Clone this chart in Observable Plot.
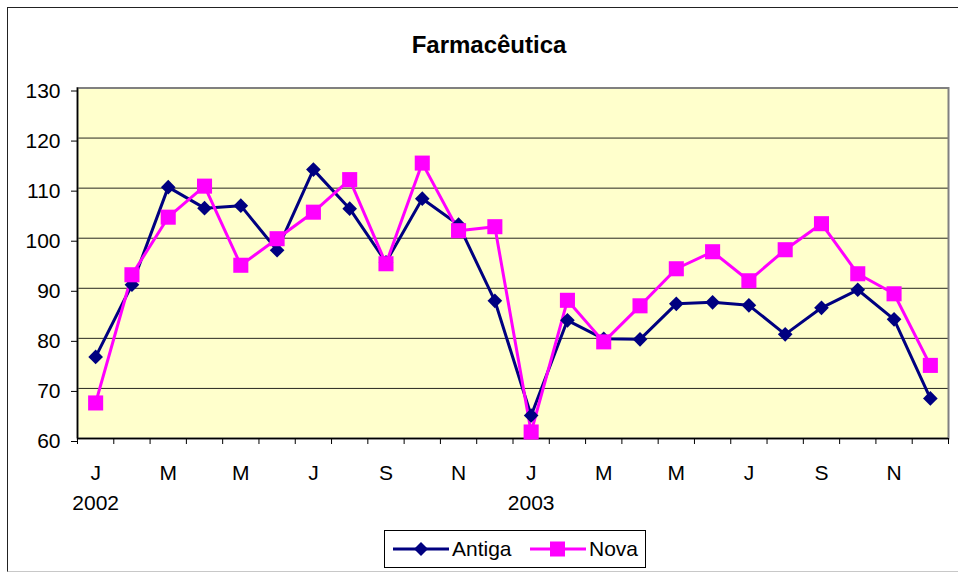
<!DOCTYPE html>
<html><head><meta charset="utf-8">
<script src="https://cdn.jsdelivr.net/npm/d3@7"></script>
<script src="https://cdn.jsdelivr.net/npm/@observablehq/plot@0.6"></script>
<style>
body{margin:0;background:#fff;font-family:Arial,"Liberation Sans",sans-serif;}
#wrap{position:relative;width:958px;height:576px;overflow:hidden;}
#wrap svg.plot{position:absolute;left:0;top:0;}
#border{position:absolute;left:7px;top:7px;width:980px;height:565px;border:1px solid #222;border-bottom-color:#c8c8c8;box-sizing:border-box;}
#title{position:absolute;left:10px;width:958px;top:31px;text-align:center;font-weight:bold;font-size:24px;color:#000;}
#legend{position:absolute;left:384px;top:530px;width:262px;height:38px;border:1px solid #000;box-sizing:border-box;background:#fff;}
#legend .item{position:absolute;top:0;height:36px;display:flex;align-items:center;font-size:21px;color:#000;}
#legend svg{display:block;margin-right:3px;}
</style></head><body>
<div id="wrap"><div id="border"></div><div id="title">Farmacêutica</div>
<div id="legend">
<div class="item" style="left:8px"><svg width="56" height="20"><line x1="0" y1="10" x2="56" y2="10" stroke="#000080" stroke-width="3"/><path d="M28 3L35 10L28 17L21 10Z" fill="#000080"/></svg>Antiga</div>
<div class="item" style="left:145px"><svg width="56" height="20"><line x1="0" y1="10" x2="56" y2="10" stroke="#FF00FF" stroke-width="3"/><rect x="20" y="2.5" width="15" height="15" fill="#FF00FF"/></svg>Nova</div>
</div>
</div>
<script>
const months = ["J","F","M","A","M","J","J","A","S","O","N","D","J","F","M","A","M","J","J","A","S","O","N","D"];
const antiga = [76.3,90.7,110.2,106.0,106.5,97.6,113.7,105.9,95.2,107.9,102.7,87.5,64.6,83.6,79.9,79.8,86.9,87.2,86.6,80.8,86.1,89.7,83.8,68.0];
const nova = [67.1,92.7,104.2,110.4,94.6,99.9,105.2,111.7,94.9,115.0,101.5,102.3,61.3,87.6,79.3,86.5,93.9,97.3,91.5,97.7,102.9,92.9,88.9,74.6];
const yTicks = [60,70,80,90,100,110,120,130];
const years = [{i:0,label:"2002"},{i:12,label:"2003"}];

const rowsA = antiga.map((v,i)=>({i,v,series:"Antiga"}));
const rowsN = nova.map((v,i)=>({i,v,series:"Nova"}));
const boundaries = d3.range(-0.5,24,1);
const labelIdx = d3.range(0,24,2);

const chart = Plot.plot({
  width:958, height:576,
  marginLeft:77, marginRight:10, marginTop:87.5, marginBottom:138,
  style:{fontFamily:"Arial, 'Liberation Sans', sans-serif", fontSize:"21px", background:"transparent", color:"#000", overflow:"visible"},
  x:{domain:[-0.5,23.5]},
  y:{domain:[60,130]},
  marks:[
    Plot.frame({fill:"#FFFFCC", stroke:null}),
    Plot.gridY(yTicks,{stroke:"#000", strokeOpacity:0.85, strokeWidth:1}),
    Plot.frame({stroke:"#808080", strokeWidth:2}),
    Plot.ruleX([-0.5],{stroke:"#000", strokeWidth:1.5}),
    Plot.ruleY([60],{stroke:"#000", strokeWidth:1.5}),
    Plot.axisY(yTicks,{tickSize:6, tickPadding:11, label:null, stroke:"#000", fill:"#000", dy:3, fontSize:21}),
    Plot.axisX(boundaries,{tickSize:6, tickFormat:()=>"", label:null, stroke:"#000"}),
    Plot.text(labelIdx,{x:d=>d, text:d=>months[d], frameAnchor:"bottom", dy:41, fontSize:21, fill:"#000"}),
    Plot.text(years,{x:"i", text:"label", frameAnchor:"bottom", dy:71, fontSize:21, fill:"#000"}),
    Plot.line(rowsA,{x:"i", y:"v", stroke:"#000080", strokeWidth:3}),
    Plot.line(rowsN,{x:"i", y:"v", stroke:"#FF00FF", strokeWidth:3}),
    Plot.dot(rowsA,{x:"i", y:"v", symbol:"diamond2", r:6.6, fill:"#000080", stroke:null}),
    Plot.dot(rowsN,{x:"i", y:"v", symbol:"square", r:8.5, fill:"#FF00FF", stroke:null})
  ]
});
chart.classList.add("plot");
document.getElementById("wrap").insertBefore(chart, document.getElementById("title"));
</script>
</body></html>
